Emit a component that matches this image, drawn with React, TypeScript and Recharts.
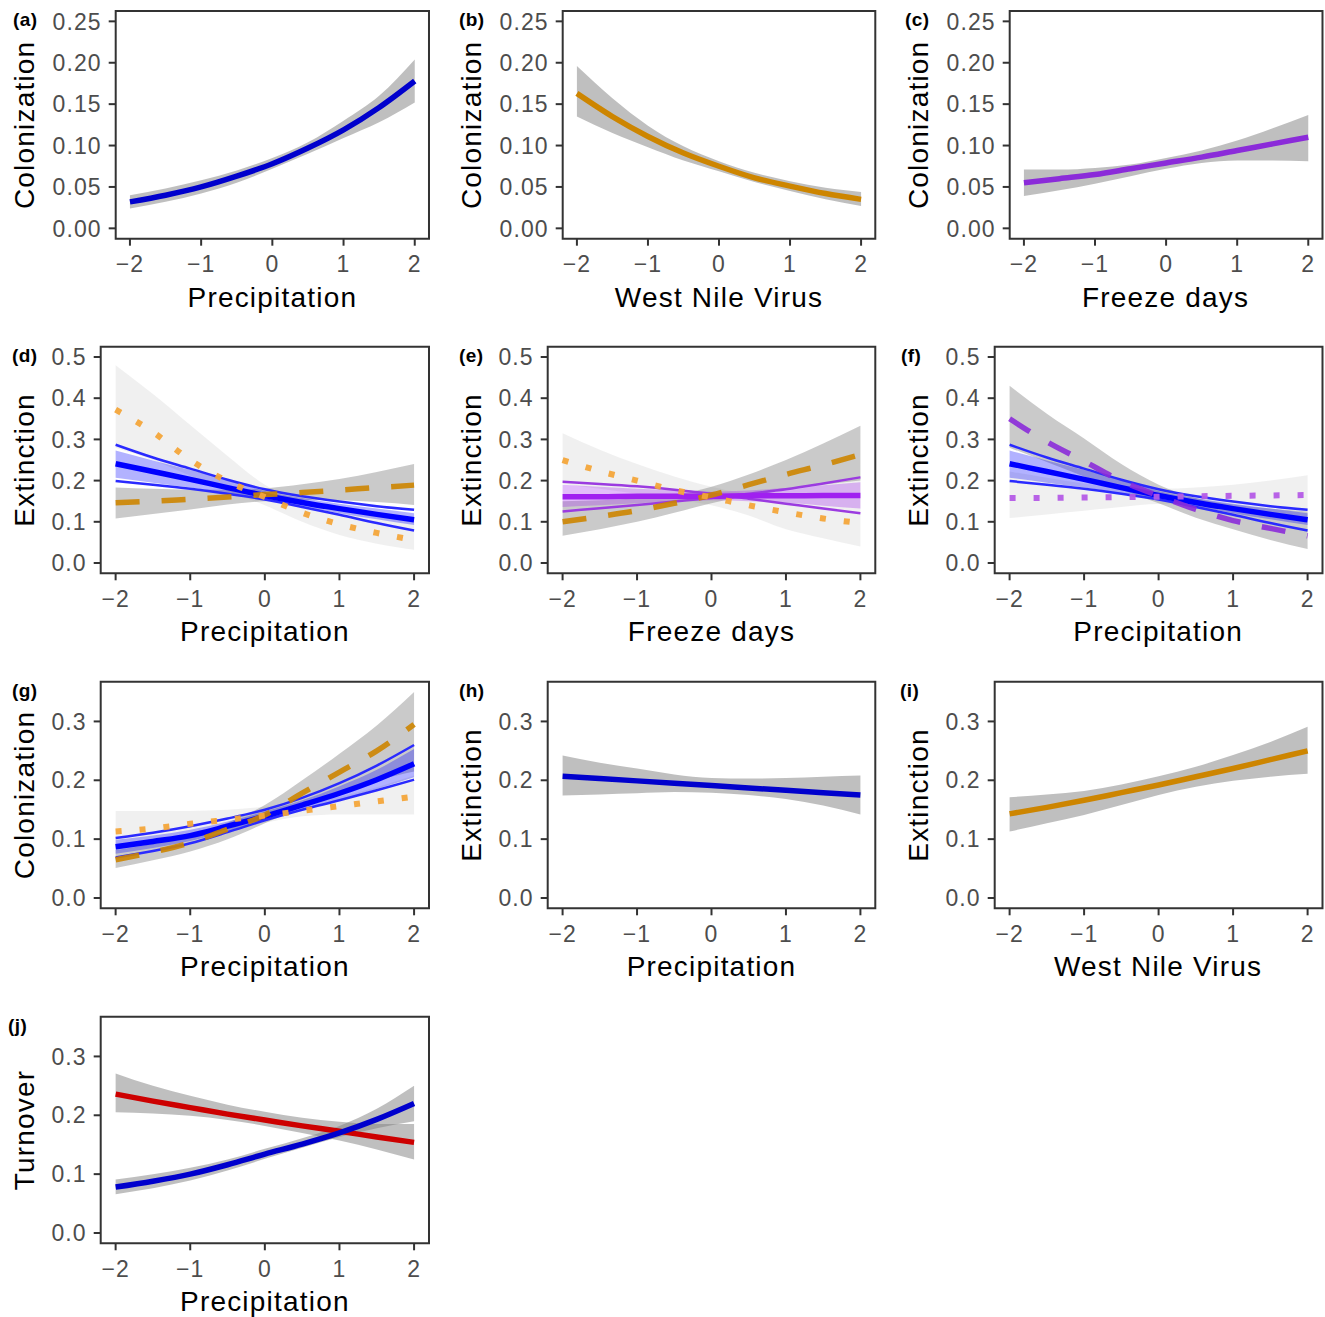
import React from 'react';
import { ComposedChart, Line, Area, XAxis, YAxis, ReferenceArea } from 'recharts';

const FONT = '"Liberation Sans", Arial, Helvetica, sans-serif';

// ---------- shared axis values ----------
const xs = [-2, -1.5, -1, -0.5, 0, 0.5, 1, 1.5, 2];
const xTicks = [-2, -1, 0, 1, 2];
const colonTicks = [0, 0.05, 0.1, 0.15, 0.2, 0.25];
const extTicks = [0, 0.1, 0.2, 0.3, 0.4, 0.5];
const lowTicks = [0, 0.1, 0.2, 0.3];

// ---------- (a) colonization ~ precipitation ----------
const aFit = [0.032, 0.040, 0.050, 0.063, 0.078, 0.097, 0.119, 0.146, 0.178];
const aLo = [0.024, 0.032, 0.042, 0.055, 0.072, 0.090, 0.109, 0.128, 0.152];
const aHi = [0.040, 0.048, 0.058, 0.070, 0.085, 0.104, 0.130, 0.160, 0.204];

// ---------- (b) colonization ~ WNV ----------
const bFit = [0.163, 0.135, 0.111, 0.091, 0.075, 0.061, 0.051, 0.042, 0.035];
const bLo = [0.135, 0.115, 0.098, 0.082, 0.069, 0.056, 0.045, 0.035, 0.027];
const bHi = [0.196, 0.157, 0.124, 0.099, 0.081, 0.067, 0.057, 0.049, 0.044];

// ---------- (c) colonization ~ freeze days ----------
const cFit = [0.055, 0.060, 0.065, 0.072, 0.079, 0.086, 0.094, 0.102, 0.110];
const cLo = [0.039, 0.046, 0.054, 0.063, 0.072, 0.079, 0.082, 0.082, 0.081];
const cHi = [0.071, 0.071, 0.073, 0.077, 0.085, 0.094, 0.106, 0.121, 0.137];

// ---------- (d) extinction ~ precipitation x WNV ----------
const dDotFit = [0.372, 0.318, 0.250, 0.198, 0.160, 0.122, 0.094, 0.073, 0.056];
const dDotLo = [0.280, 0.250, 0.212, 0.175, 0.140, 0.100, 0.068, 0.047, 0.032];
const dDotHi = [0.480, 0.410, 0.335, 0.260, 0.190, 0.150, 0.128, 0.113, 0.102];
const dDashFit = [0.146, 0.150, 0.155, 0.160, 0.166, 0.171, 0.177, 0.183, 0.189];
const dDashLo = [0.108, 0.119, 0.130, 0.142, 0.150, 0.153, 0.152, 0.148, 0.141];
const dDashHi = [0.183, 0.180, 0.178, 0.178, 0.181, 0.191, 0.204, 0.221, 0.240];

// blue precipitation effect (d, f)
const pBlueFit = [0.241, 0.222, 0.203, 0.183, 0.164, 0.147, 0.132, 0.118, 0.105];
const pBlueLo = [0.207, 0.195, 0.183, 0.169, 0.154, 0.137, 0.121, 0.106, 0.092];
const pBlueHi = [0.273, 0.249, 0.226, 0.204, 0.175, 0.158, 0.144, 0.132, 0.121];
const pBlueUp = [0.287, 0.256, 0.229, 0.202, 0.179, 0.162, 0.149, 0.138, 0.129];
const pBlueDown = [0.199, 0.190, 0.180, 0.168, 0.154, 0.136, 0.117, 0.097, 0.079];

// ---------- (e) extinction ~ freeze days x WNV ----------
const eDotFit = [0.250, 0.223, 0.200, 0.177, 0.159, 0.140, 0.123, 0.108, 0.097];
const eDotLo = [0.192, 0.180, 0.168, 0.155, 0.140, 0.115, 0.082, 0.060, 0.040];
const eDotHi = [0.315, 0.275, 0.240, 0.210, 0.185, 0.170, 0.175, 0.190, 0.205];
const eDashFit = [0.100, 0.113, 0.127, 0.145, 0.165, 0.190, 0.215, 0.238, 0.263];
const eDashLo = [0.066, 0.082, 0.100, 0.122, 0.145, 0.165, 0.180, 0.190, 0.200];
const eDashHi = [0.150, 0.152, 0.157, 0.165, 0.185, 0.215, 0.250, 0.290, 0.333];
const ePurFit = [0.161, 0.161, 0.162, 0.162, 0.162, 0.163, 0.163, 0.164, 0.164];
const ePurLo = [0.136, 0.140, 0.145, 0.149, 0.152, 0.150, 0.146, 0.139, 0.132];
const ePurHi = [0.190, 0.185, 0.180, 0.177, 0.173, 0.176, 0.182, 0.189, 0.196];
const ePurDown = [0.197, 0.192, 0.186, 0.178, 0.168, 0.156, 0.144, 0.132, 0.121];
const ePurUp = [0.125, 0.133, 0.141, 0.149, 0.158, 0.168, 0.179, 0.193, 0.208];

// ---------- (f) extinction ~ precipitation x freeze days ----------
const fDashFit = [0.350, 0.294, 0.247, 0.199, 0.163, 0.130, 0.103, 0.084, 0.066];
const fDashLo = [0.280, 0.245, 0.210, 0.178, 0.145, 0.110, 0.082, 0.056, 0.034];
const fDashHi = [0.430, 0.362, 0.302, 0.240, 0.190, 0.158, 0.142, 0.132, 0.125];
const fDotFit = [0.158, 0.158, 0.159, 0.160, 0.161, 0.162, 0.163, 0.164, 0.165];
const fDotLo = [0.109, 0.118, 0.127, 0.136, 0.143, 0.143, 0.140, 0.133, 0.125];
const fDotHi = [0.222, 0.207, 0.193, 0.182, 0.180, 0.183, 0.190, 0.200, 0.213];

// ---------- (g) colonization ~ precipitation x WNV ----------
const gDashFit = [0.065, 0.078, 0.094, 0.117, 0.141, 0.178, 0.214, 0.250, 0.295];
const gDashLo = [0.051, 0.064, 0.079, 0.100, 0.127, 0.155, 0.180, 0.200, 0.215];
const gDashHi = [0.081, 0.092, 0.106, 0.128, 0.158, 0.200, 0.245, 0.293, 0.350];
const gDotFit = [0.113, 0.118, 0.126, 0.133, 0.140, 0.148, 0.156, 0.164, 0.172];
const gDotLo = [0.080, 0.090, 0.101, 0.115, 0.128, 0.139, 0.142, 0.142, 0.142];
const gDotHi = [0.148, 0.148, 0.148, 0.150, 0.155, 0.160, 0.172, 0.188, 0.208];
const gBlueFit = [0.087, 0.096, 0.106, 0.122, 0.139, 0.158, 0.178, 0.201, 0.228];
const gBlueLo = [0.075, 0.085, 0.097, 0.113, 0.132, 0.150, 0.167, 0.185, 0.205];
const gBlueHi = [0.099, 0.106, 0.116, 0.130, 0.147, 0.166, 0.190, 0.218, 0.253];
const gBlueUp = [0.102, 0.111, 0.122, 0.135, 0.150, 0.170, 0.195, 0.225, 0.260];
const gBlueDown = [0.069, 0.080, 0.093, 0.112, 0.132, 0.150, 0.166, 0.183, 0.201];

// ---------- (h) extinction ~ precipitation ----------
const hFit = [0.207, 0.203, 0.199, 0.195, 0.191, 0.187, 0.183, 0.179, 0.175];
const hLo = [0.174, 0.176, 0.178, 0.180, 0.179, 0.175, 0.168, 0.157, 0.142];
const hHi = [0.242, 0.230, 0.220, 0.210, 0.204, 0.203, 0.204, 0.206, 0.208];

// ---------- (i) extinction ~ WNV ----------
const iFit = [0.143, 0.154, 0.166, 0.179, 0.192, 0.206, 0.220, 0.235, 0.250];
const iLo = [0.113, 0.127, 0.141, 0.158, 0.175, 0.189, 0.199, 0.206, 0.211];
const iHi = [0.171, 0.176, 0.182, 0.193, 0.207, 0.223, 0.243, 0.265, 0.291];

// ---------- (j) turnover ~ precipitation ----------
const jRedFit = [0.236, 0.224, 0.213, 0.202, 0.192, 0.182, 0.173, 0.163, 0.154];
const jRedLo = [0.205, 0.203, 0.199, 0.192, 0.182, 0.170, 0.157, 0.142, 0.125];
const jRedHi = [0.271, 0.250, 0.233, 0.218, 0.206, 0.196, 0.189, 0.185, 0.185];
const jBlueFit = [0.078, 0.088, 0.100, 0.116, 0.134, 0.151, 0.170, 0.193, 0.220];
const jBlueLo = [0.066, 0.076, 0.089, 0.106, 0.126, 0.145, 0.163, 0.178, 0.190];
const jBlueHi = [0.091, 0.100, 0.111, 0.125, 0.143, 0.161, 0.182, 0.211, 0.250];

// ---------- styles ----------
const GREY = '#808080';
const ORANGE = '#CD8500';
const ORANGE_LIGHT = '#F3A53A';
const BLUE_DARK = '#0000CD';
const BLUE = '#0000FF';
const BLUE_THIN = '#2A2AFF';
const PURPLE = '#8B2BD9';
const PURPLE_BRIGHT = '#A020F0';
const PURPLE_THIN = '#9B3BE0';
const PURPLE_LIGHT = '#B45AE6';
const RED = '#CD0000';
const DASH = '24 22';
const DOT = '6 18';

type Layer =
  | { kind: 'band'; lo: number[]; hi: number[]; fill: string; opacity: number }
  | { kind: 'line'; values: number[]; stroke: string; width: number; dash?: string; opacity?: number };

const band = (lo: number[], hi: number[], fill = GREY, opacity = 0.5): Layer => ({ kind: 'band', lo, hi, fill, opacity });
const line = (values: number[], stroke: string, width = 5, dash?: string, opacity = 1): Layer => ({ kind: 'line', values, stroke, width, dash, opacity });

type Panel = {
  tag: string;
  tagX: number;
  col: number;
  row: number;
  yTitle: string;
  xTitle: string;
  yDomain: [number, number];
  yTicks: number[];
  digits: number;
  layers: Layer[];
};

const COLON_DOMAIN: [number, number] = [-0.0125, 0.2625];
const EXT_DOMAIN: [number, number] = [-0.025, 0.525];
const LOW_DOMAIN: [number, number] = [-0.0175, 0.3675];

const blueSet = (fit: number[], lo: number[], hi: number[], up: number[], down: number[]): Layer[] => [
  band(lo, hi, BLUE, 0.3),
  line(up, BLUE_THIN, 2.5),
  line(down, BLUE_THIN, 2.5),
  line(fit, BLUE, 5.5),
];

const panels: Panel[] = [
  {
    tag: '(a)', tagX: 13, col: 0, row: 0, yTitle: 'Colonization', xTitle: 'Precipitation',
    yDomain: COLON_DOMAIN, yTicks: colonTicks, digits: 2,
    layers: [band(aLo, aHi), line(aFit, BLUE_DARK, 5.5)],
  },
  {
    tag: '(b)', tagX: 459, col: 1, row: 0, yTitle: 'Colonization', xTitle: 'West Nile Virus',
    yDomain: COLON_DOMAIN, yTicks: colonTicks, digits: 2,
    layers: [band(bLo, bHi), line(bFit, ORANGE, 5.5)],
  },
  {
    tag: '(c)', tagX: 905, col: 2, row: 0, yTitle: 'Colonization', xTitle: 'Freeze days',
    yDomain: COLON_DOMAIN, yTicks: colonTicks, digits: 2,
    layers: [band(cLo, cHi), line(cFit, PURPLE, 5.5)],
  },
  {
    tag: '(d)', tagX: 12, col: 0, row: 1, yTitle: 'Extinction', xTitle: 'Precipitation',
    yDomain: EXT_DOMAIN, yTicks: extTicks, digits: 1,
    layers: [
      band(dDotLo, dDotHi, GREY, 0.12),
      band(dDashLo, dDashHi, GREY, 0.42),
      ...blueSet(pBlueFit, pBlueLo, pBlueHi, pBlueUp, pBlueDown),
      line(dDashFit, ORANGE, 5.5, DASH, 0.9),
      line(dDotFit, ORANGE_LIGHT, 6, DOT, 0.95),
    ],
  },
  {
    tag: '(e)', tagX: 459, col: 1, row: 1, yTitle: 'Extinction', xTitle: 'Freeze days',
    yDomain: EXT_DOMAIN, yTicks: extTicks, digits: 1,
    layers: [
      band(eDotLo, eDotHi, GREY, 0.12),
      band(eDashLo, eDashHi, GREY, 0.42),
      band(ePurLo, ePurHi, PURPLE_BRIGHT, 0.3),
      line(ePurDown, PURPLE_THIN, 2.5),
      line(ePurUp, PURPLE_THIN, 2.5),
      line(ePurFit, PURPLE_BRIGHT, 5.5),
      line(eDashFit, ORANGE, 5.5, DASH, 0.9),
      line(eDotFit, ORANGE_LIGHT, 6, DOT, 0.95),
    ],
  },
  {
    tag: '(f)', tagX: 901, col: 2, row: 1, yTitle: 'Extinction', xTitle: 'Precipitation',
    yDomain: EXT_DOMAIN, yTicks: extTicks, digits: 1,
    layers: [
      band(fDotLo, fDotHi, GREY, 0.12),
      band(fDashLo, fDashHi, GREY, 0.42),
      ...blueSet(pBlueFit, pBlueLo, pBlueHi, pBlueUp, pBlueDown),
      line(fDashFit, PURPLE, 5.5, DASH, 0.9),
      line(fDotFit, PURPLE_LIGHT, 6, DOT, 0.95),
    ],
  },
  {
    tag: '(g)', tagX: 12, col: 0, row: 2, yTitle: 'Colonization', xTitle: 'Precipitation',
    yDomain: LOW_DOMAIN, yTicks: lowTicks, digits: 1,
    layers: [
      band(gDotLo, gDotHi, GREY, 0.12),
      band(gDashLo, gDashHi, GREY, 0.42),
      ...blueSet(gBlueFit, gBlueLo, gBlueHi, gBlueUp, gBlueDown),
      line(gDashFit, ORANGE, 5.5, DASH, 0.9),
      line(gDotFit, ORANGE_LIGHT, 6, DOT, 0.95),
    ],
  },
  {
    tag: '(h)', tagX: 459, col: 1, row: 2, yTitle: 'Extinction', xTitle: 'Precipitation',
    yDomain: LOW_DOMAIN, yTicks: lowTicks, digits: 1,
    layers: [band(hLo, hHi), line(hFit, BLUE_DARK, 5.5)],
  },
  {
    tag: '(i)', tagX: 900, col: 2, row: 2, yTitle: 'Extinction', xTitle: 'West Nile Virus',
    yDomain: LOW_DOMAIN, yTicks: lowTicks, digits: 1,
    layers: [band(iLo, iHi), line(iFit, ORANGE, 5.5)],
  },
  {
    tag: '(j)', tagX: 8, col: 0, row: 3, yTitle: 'Turnover', xTitle: 'Precipitation',
    yDomain: LOW_DOMAIN, yTicks: lowTicks, digits: 1,
    layers: [band(jRedLo, jRedHi), band(jBlueLo, jBlueHi), line(jRedFit, RED, 5.5), line(jBlueFit, BLUE_DARK, 5.5)],
  },
];

// ---------- layout ----------
const colLeft = [0, 447, 893.5];
const boxRight = [429, 875.3, 1322];
const rowTop = [0, 335, 670, 1005];
const boxTop = [11, 346.7, 681.7, 1016.7];
const boxBottom = [238.7, 573.3, 908.3, 1243.3];
const yAxisW = [115.7, 100.7, 100.7, 100.7];
const X_AXIS_H = 46;

const minus = (v: number) => (v < 0 ? `\u2212${Math.abs(v)}` : String(v));

const tickStyle = { fill: '#4D4D4D', fontSize: 23, fontFamily: FONT, letterSpacing: 1.1 };
const tickLineStyle = { stroke: '#333333', strokeWidth: 2 };

function PanelChart({ p }: { p: Panel }) {
  const data = xs.map((x, i) => {
    const row: Record<string, any> = { x };
    p.layers.forEach((L, k) => {
      row['k' + k] = L.kind === 'band' ? [L.lo[i], L.hi[i]] : L.values[i];
    });
    return row;
  });
  const left = colLeft[p.col];
  const top = rowTop[p.row];
  const width = boxRight[p.col] - left + 4;
  const height = boxBottom[p.row] - top + X_AXIS_H;
  return (
    <div style={{ position: 'absolute', left, top, width, height }}>
      <ComposedChart
        width={width}
        height={height}
        data={data}
        margin={{ top: boxTop[p.row] - top, right: 4, left: 0, bottom: 0 }}
      >
        <XAxis
          dataKey="x"
          type="number"
          domain={[-2.2, 2.2]}
          ticks={xTicks}
          interval={0}
          tickFormatter={minus}
          axisLine={false}
          tickLine={tickLineStyle}
          tickSize={7}
          tickMargin={10}
          tick={tickStyle}
          height={X_AXIS_H}
          allowDataOverflow
        />
        <YAxis
          type="number"
          domain={p.yDomain}
          ticks={p.yTicks}
          interval={0}
          tickFormatter={(v: number) => v.toFixed(p.digits)}
          axisLine={false}
          tickLine={tickLineStyle}
          tickSize={7}
          tickMargin={7}
          tick={tickStyle}
          width={yAxisW[p.row]}
          allowDataOverflow
        />
        {p.layers.map((L, k) =>
          L.kind === 'band' ? (
            <Area
              key={'k' + k}
              dataKey={'k' + k}
              type="monotone"
              stroke="none"
              fill={L.fill}
              fillOpacity={L.opacity}
              isAnimationActive={false}
              activeDot={false}
              dot={false}
            />
          ) : (
            <Line
              key={'k' + k}
              dataKey={'k' + k}
              type="monotone"
              stroke={L.stroke}
              strokeWidth={L.width}
              strokeDasharray={L.dash}
              strokeOpacity={L.opacity}
              strokeLinecap="butt"
              dot={false}
              activeDot={false}
              isAnimationActive={false}
            />
          )
        )}
        <ReferenceArea
          x1={-2.2}
          x2={2.2}
          y1={p.yDomain[0]}
          y2={p.yDomain[1]}
          fill="none"
          stroke="#333333"
          strokeWidth={2}
          ifOverflow="visible"
        />
      </ComposedChart>
    </div>
  );
}

function Titles() {
  return (
    <svg
      width={1325}
      height={1317}
      style={{ position: 'absolute', left: 0, top: 0, pointerEvents: 'none' }}
    >
      {panels.map((p) => {
        const bl = colLeft[p.col] + yAxisW[p.row];
        const br = boxRight[p.col];
        const bt = boxTop[p.row];
        const bb = boxBottom[p.row];
        const yc = (bt + bb) / 2;
        const yx = colLeft[p.col] + 34;
        return (
          <g key={p.tag} fontFamily={FONT}>
            <text x={p.tagX} y={bt + 15} fontSize={19} fontWeight="bold" fill="#000" letterSpacing={0.4}>
              {p.tag}
            </text>
            <text
              transform={`translate(${yx},${yc}) rotate(-90)`}
              textAnchor="middle"
              fontSize={28}
              letterSpacing={1.2}
              fill="#000"
            >
              {p.yTitle}
            </text>
            <text x={(bl + br) / 2} y={bb + 68} textAnchor="middle" fontSize={28} letterSpacing={1.2} fill="#000">
              {p.xTitle}
            </text>
          </g>
        );
      })}
    </svg>
  );
}

export default function App() {
  return (
    <div
      style={{
        position: 'absolute',
        left: 0,
        top: 0,
        width: 1325,
        height: 1317,
        background: '#ffffff',
        overflow: 'hidden',
      }}
    >
      {panels.map((p) => (
        <PanelChart key={p.tag} p={p} />
      ))}
      <Titles />
    </div>
  );
}
